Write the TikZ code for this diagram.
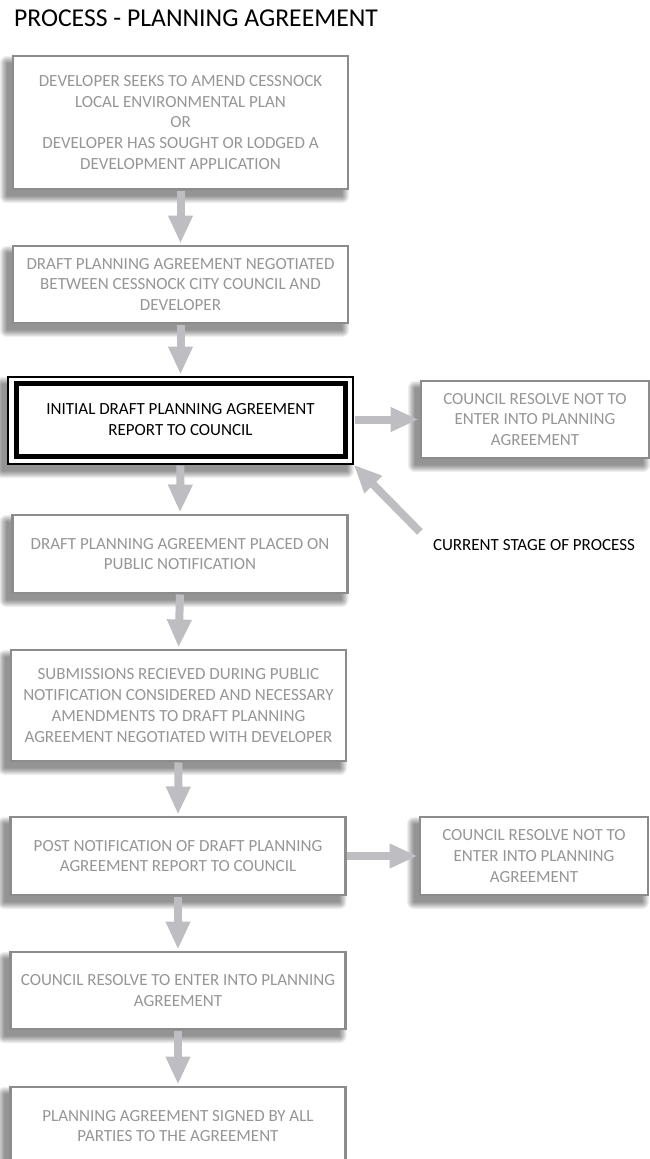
\documentclass[tikz,border=0pt]{standalone}
\usepackage{fontspec}
\setmainfont{Carlito}
\usetikzlibrary{arrows.meta,backgrounds}
\definecolor{boxline}{RGB}{140,140,140}
\definecolor{boxtext}{RGB}{150,150,150}
\definecolor{arrowgray}{RGB}{190,190,194}
\newcommand\dropshade[1]{%
  \foreach \k in {1,...,9}{%
    \pgfmathsetmacro\e{8-0.88*\k}%
    \fill[black,opacity=0.06,rounded corners=\e pt]
      ([shift={(-6-\e,7-\e)}]#1.north west) rectangle ([shift={(-6+\e,7+\e)}]#1.south east);
  }}
\begin{document}
\begin{tikzpicture}[x=1pt,y=-1pt,
  every node/.style={inner sep=0pt,outer sep=0pt},
  boxfont/.style={font=\fontsize{17}{20.7}\selectfont},
  gbox/.style={draw=boxline,line width=2.8pt,fill=white,text=boxtext,align=center,boxfont,
               minimum width=335pt},
  rbox/.style={gbox,minimum width=228pt},
  flow/.style={draw=arrowgray,line width=8pt,-{Triangle[length=28pt,width=23pt]},
               shorten >=2.5pt,shorten <=1.5pt}
]
\useasboundingbox (0,0) rectangle (649,1159);

\node[anchor=base west,font=\fontsize{25.7}{30}\selectfont] (title) at (14,27)
  {PROCESS - PLANNING AGREEMENT};

\node[gbox,minimum height=133pt] (b1) at (180.5,122.5)
  {DEVELOPER SEEKS TO AMEND CESSNOCK\\LOCAL ENVIRONMENTAL PLAN\\OR\\DEVELOPER HAS SOUGHT OR LODGED A\\DEVELOPMENT APPLICATION};
\node[gbox,minimum height=77pt] (b2) at (180.5,284.5)
  {DRAFT PLANNING AGREEMENT NEGOTIATED\\BETWEEN CESSNOCK CITY COUNCIL AND\\DEVELOPER};

\node[draw=black,line width=1.3pt,fill=white,minimum width=345pt,minimum height=87pt]
  (b3o) at (180.5,420.5) {};
\node[draw=black,line width=5pt,fill=white,minimum width=329pt,minimum height=73pt,
      align=center,boxfont,text=black] (b3) at (180.5,419.5)
  {INITIAL DRAFT PLANNING AGREEMENT\\REPORT TO COUNCIL};

\node[rbox,minimum height=77pt] (r1) at (535,419.5)
  {COUNCIL RESOLVE NOT TO\\ENTER INTO PLANNING\\AGREEMENT};

\node[gbox,minimum height=78pt] (b4) at (180,554)
  {DRAFT PLANNING AGREEMENT PLACED ON\\PUBLIC NOTIFICATION};
\node[gbox,minimum height=111pt] (b5) at (178.5,705.5)
  {SUBMISSIONS RECIEVED DURING PUBLIC\\NOTIFICATION CONSIDERED AND NECESSARY\\AMENDMENTS TO DRAFT PLANNING\\AGREEMENT NEGOTIATED WITH DEVELOPER};
\node[gbox,minimum height=78pt] (b6) at (178,856)
  {POST NOTIFICATION OF DRAFT PLANNING\\AGREEMENT REPORT TO COUNCIL};
\node[rbox,minimum height=78pt] (r2) at (534,856)
  {COUNCIL RESOLVE NOT TO\\ENTER INTO PLANNING\\AGREEMENT};
\node[gbox,minimum height=77pt] (b7) at (178,990.5)
  {COUNCIL RESOLVE TO ENTER INTO PLANNING\\AGREEMENT};
\node[gbox,minimum height=78pt] (b8) at (178,1126)
  {PLANNING AGREEMENT SIGNED BY ALL\\PARTIES TO THE AGREEMENT};

\node[anchor=west,boxfont,text=black] (cur) at (433,545) {CURRENT STAGE OF PROCESS};
\coordinate (curtail) at (421,533);

\begin{pgfonlayer}{background}
  \foreach \n in {b1,b2,b3o,r1,b4,b5,b6,r2,b7,b8}{\dropshade{\n}}
\end{pgfonlayer}

\draw[flow] (b1.south) -- (b2.north);
\draw[flow] (b2.south) -- (b3o.north);
\draw[flow] (b3o.south) -- (b4.north);
\draw[flow] (b4.south) -- (b5.north);
\draw[flow] (b5.south) -- (b6.north);
\draw[flow] (b6.south) -- (b7.north);
\draw[flow] (b7.south) -- (b8.north);
\draw[flow] (b3o.east |- r1.west) -- (r1.west);
\draw[flow] (b6.east) -- (r2.west);
\draw[flow,shorten >=1pt] (curtail) -- (b3o.south east);
\end{tikzpicture}
\end{document}
